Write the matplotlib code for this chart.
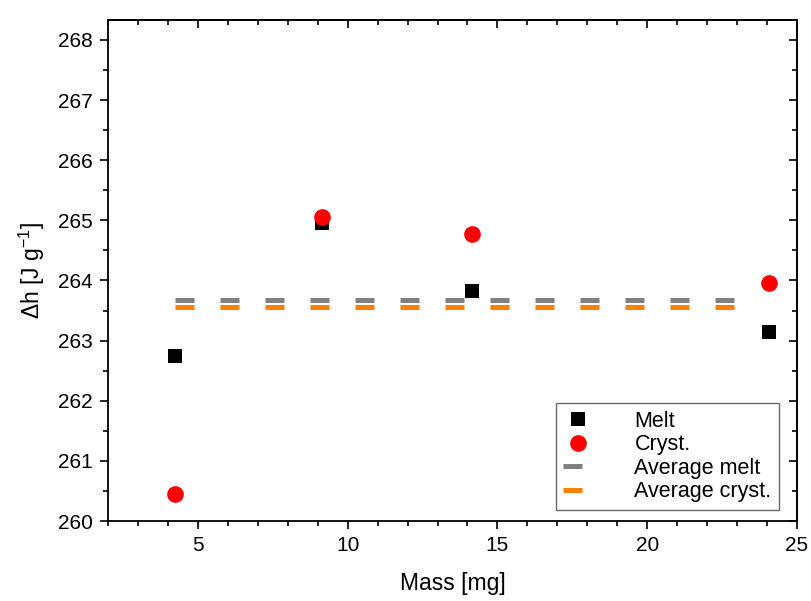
import numpy as np
import matplotlib.pyplot as plt
from matplotlib.ticker import MultipleLocator

plt.rcParams['font.family'] = ['Liberation Sans', 'DejaVu Sans']
plt.rcParams['mathtext.fontset'] = 'custom'
plt.rcParams['mathtext.rm'] = 'Liberation Sans'
plt.rcParams['mathtext.it'] = 'Liberation Sans'

### DATA
### ------------------
mass = [4.23, 9.14, 14.15, 24.05]
dh_melt = [262.75, 264.95, 263.82, 263.15]
dh_cryst = [260.45, 265.05, 264.78, 263.95]
avg_span = [mass[0], 22.9]

avg_melt = np.mean(dh_melt)
avg_cryst = np.mean(dh_cryst)

### PLOT
### ------------------
fig = plt.figure(figsize=(8.11, 6.01), dpi=100)
ax = fig.add_axes([0.1332, 0.1331, 0.8495, 0.8336])

dash = dict(linewidth=3.6, dashes=(3.8, 5.2), dash_capstyle='butt', solid_capstyle='butt')
ax.plot(avg_span, [avg_melt, avg_melt], color='#808080', label='Average melt', **dash)
ax.plot(avg_span, [avg_cryst, avg_cryst], color='#FF8000', label='Average cryst.', **dash)
ax.plot(mass, dh_melt, 's', color='black', markersize=10.5, markeredgewidth=0, label='Melt')
ax.plot(mass, dh_cryst, 'o', color='red', markersize=12, markeredgewidth=0, label='Cryst.')

ax.set_xlim(2, 25)
ax.set_ylim(260, 268.33)
ax.xaxis.set_major_locator(MultipleLocator(5))
ax.xaxis.set_minor_locator(MultipleLocator(1))
ax.yaxis.set_major_locator(MultipleLocator(1))
ax.yaxis.set_minor_locator(MultipleLocator(0.5))
ax.tick_params(which='both', direction='out', width=1.2, labelsize=15)
ax.tick_params(which='major', length=6, pad=5)
ax.tick_params(which='minor', length=3.5)
for s in ax.spines.values():
    s.set_linewidth(1.3)

top = ax.secondary_xaxis('top')
top.xaxis.set_major_locator(MultipleLocator(5))
top.xaxis.set_minor_locator(MultipleLocator(1))
top.tick_params(which='both', direction='in', width=1.2, labeltop=False)
top.tick_params(which='major', length=6)
top.tick_params(which='minor', length=3.5)
top.spines['top'].set_linewidth(1.3)

right = ax.secondary_yaxis('right')
right.yaxis.set_major_locator(MultipleLocator(1))
right.yaxis.set_minor_locator(MultipleLocator(0.5))
right.tick_params(which='both', direction='in', width=1.2, labelright=False)
right.tick_params(which='major', length=6)
right.tick_params(which='minor', length=3.5)
right.spines['right'].set_linewidth(1.3)

ax.set_xlabel('Mass [mg]', fontsize=16.5, labelpad=12)
ax.set_ylabel('$\\Delta$h [J g$^{-1}$]', fontsize=16.5, labelpad=8)

h, l = ax.get_legend_handles_labels()
order = [2, 3, 0, 1]
leg = ax.legend([h[i] for i in order], [l[i] for i in order], loc='lower right',
                bbox_to_anchor=(0.974, 0.022), fontsize=15.5, frameon=True, fancybox=False,
                handlelength=1.4, handletextpad=1.9, labelspacing=0.12, borderpad=0.35,
                borderaxespad=0)
leg.get_frame().set_edgecolor('#444444')
leg.get_frame().set_linewidth(1.0)

fig.savefig('out.png', dpi=100)
